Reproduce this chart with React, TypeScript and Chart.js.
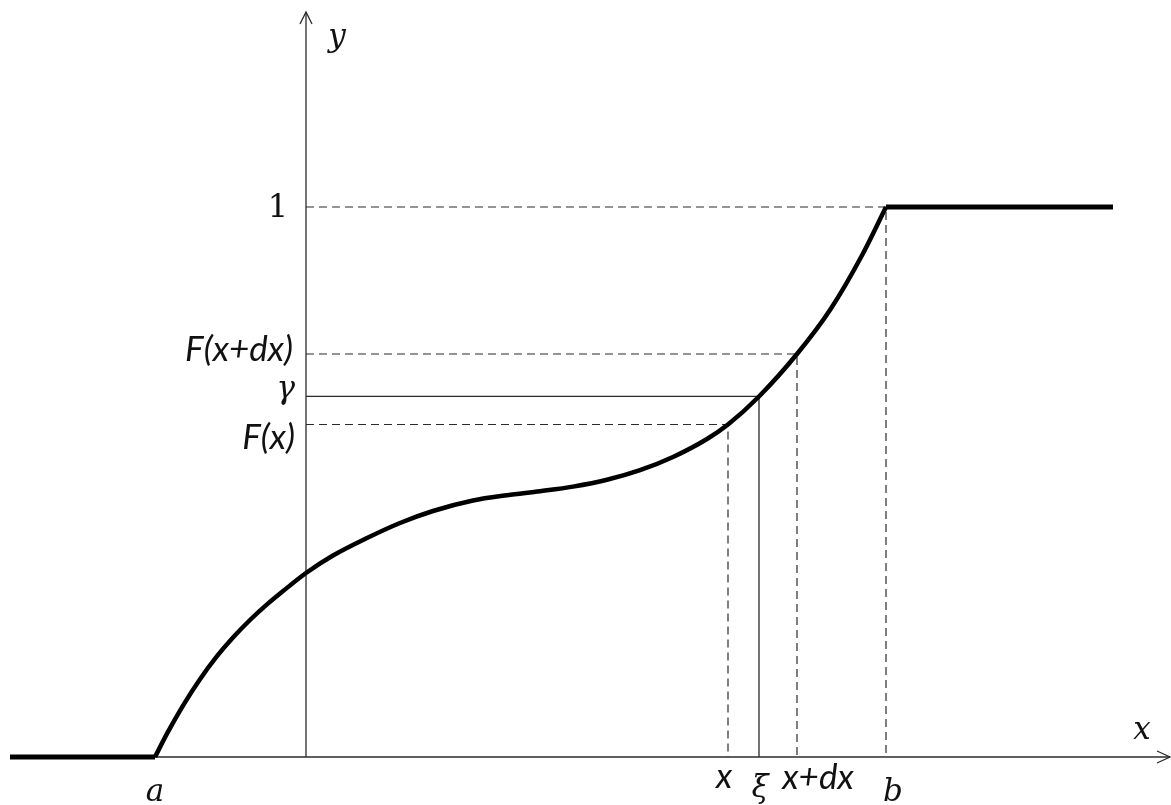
import React, { useEffect, useRef } from "react";
import { Chart, registerables } from "chart.js";

Chart.register(...registerables);

const W = 1171;
const H = 805;

// Distribution function F(x)
// (x: 0 at the y-axis, 1 unit ≈ 100 px; y: 0 .. 1)
const curveX = [-1.51, -1.39, -1.23, -1.06, -0.89, -0.73, -0.56, -0.39, -0.23, 0.0, 0.27, 0.61, 0.94, 1.27, 1.67, 2.01, 2.34, 2.67, 3.01, 3.34, 3.67, 4.01, 4.22, 4.53, 4.91, 5.24, 5.57, 5.8];
const curveY = [0, 0.0425, 0.0935, 0.1415, 0.1833, 0.2173, 0.2491, 0.2775, 0.3016, 0.3345, 0.3664, 0.3982, 0.4255, 0.4473, 0.4664, 0.476, 0.4833, 0.4916, 0.504, 0.5215, 0.5455, 0.5782, 0.6045, 0.6555, 0.7327, 0.8127, 0.9155, 1.0];
const leftFlatX = [-2.96, -1.51];
const leftFlatY = [0, 0];
const rightFlatX = [5.8, 8.07];
const rightFlatY = [1, 1];

// Marked points: x, ξ, x+dx, b
const markX = [4.22, 4.53, 4.91, 5.8];
const markY = [0.6045, 0.6555, 0.7327, 1.0];
const markSolid = [false, true, false, false];

// Axes
const xAxisFrom = -1.51;
const xAxisTo = 8.64;
const yAxisTo = 1.3545;

// Tick labels
const yTickValues = [1, 0.7327, 0.6555, 0.6045];
const yTickLabels = ["1", "F(x+dx)", "γ", "F(x)"];
const xTickValues = [-1.51, 4.22, 4.53, 4.91, 5.8];
const xTickLabels = ["a", "x", "ξ", "x+dx", "b"];
const xAxisTitle = "x";
const yAxisTitle = "y";

// Scale ranges
const xMin = -3.06;
const xMax = 8.65;
const yMin = -0.08727;
const yMax = 1.37636;

// Label styles (font, offsets in px)
const MATH = "italic 31px 'DejaVu Serif'";
const SANS = "italic 35px Lato";
const yTickStyle = [
  { font: "32px 'DejaVu Serif'", dx: -18, dy: 2, base: "middle" },
  { font: SANS, dx: -13, dy: -4, base: "middle" },
  { font: MATH, dx: -11, dy: 2, base: "alphabetic" },
  { font: SANS, dx: -11, dy: 13, base: "middle" },
];
const xTickStyle = [
  { font: MATH, dx: 0, dy: 44, base: "alphabetic" },
  { font: SANS, dx: -4, dy: 31, base: "alphabetic" },
  { font: MATH, dx: 1, dy: 40, base: "alphabetic" },
  { font: SANS, dx: 21, dy: 32, base: "alphabetic" },
  { font: MATH, dx: 7, dy: 44, base: "alphabetic" },
];

const pts = (xs: number[], ys: number[]) => xs.map((x, i) => ({ x, y: ys[i] }));

const LINE = "#2a2a2a";

const overlay = {
  id: "overlay",
  afterDraw(chart: any) {
    const ctx = chart.ctx;
    const xs = chart.scales.x;
    const ys = chart.scales.y;
    ctx.save();
    // arrowheads
    ctx.strokeStyle = LINE;
    ctx.lineWidth = 1.3;
    const xt = xs.getPixelForValue(xAxisTo);
    const x0 = ys.getPixelForValue(0);
    ctx.beginPath();
    ctx.moveTo(xt - 13, x0 - 6);
    ctx.lineTo(xt, x0);
    ctx.lineTo(xt - 13, x0 + 6);
    ctx.stroke();
    const yt = ys.getPixelForValue(yAxisTo);
    const y0 = xs.getPixelForValue(0);
    ctx.beginPath();
    ctx.moveTo(y0 - 6, yt + 12);
    ctx.lineTo(y0, yt);
    ctx.lineTo(y0 + 6, yt + 12);
    ctx.stroke();

    ctx.fillStyle = "#111111";
    // y tick labels
    ctx.textAlign = "right";
    yTickValues.forEach((v, i) => {
      const s = yTickStyle[i];
      ctx.font = s.font;
      ctx.textBaseline = s.base;
      ctx.fillText(yTickLabels[i], y0 + s.dx, ys.getPixelForValue(v) + s.dy);
    });
    // x tick labels
    ctx.textAlign = "center";
    xTickValues.forEach((v, i) => {
      const s = xTickStyle[i];
      ctx.font = s.font;
      ctx.textBaseline = s.base;
      ctx.fillText(xTickLabels[i], xs.getPixelForValue(v) + s.dx, x0 + s.dy);
    });
    // axis titles
    ctx.font = MATH;
    ctx.textBaseline = "alphabetic";
    ctx.textAlign = "center";
    ctx.fillText(xAxisTitle, xt - 28, x0 - 18);
    ctx.fillText(yAxisTitle, y0 + 31, yt + 34);
    ctx.restore();
  },
};

export default function App() {
  const ref = useRef<HTMLCanvasElement | null>(null);
  useEffect(() => {
    if (!ref.current) return;
    const guides = markX.map((mx, i) => ({
      data: [
        { x: 0, y: markY[i] },
        { x: mx, y: markY[i] },
        { x: mx, y: 0 },
      ],
      borderColor: LINE,
      borderWidth: markSolid[i] ? 1.3 : 1.2,
      borderDash: markSolid[i] ? [] : [8, 5],
      pointRadius: 0,
      showLine: true,
      tension: 0,
    }));
    const chart = new Chart(ref.current, {
      type: "scatter",
      data: {
        datasets: [
          {
            data: pts(curveX, curveY),
            borderColor: "#000000",
            borderWidth: 4.5,
            pointRadius: 0,
            showLine: true,
            cubicInterpolationMode: "monotone",
          },
          {
            data: pts(leftFlatX, leftFlatY),
            borderColor: "#000000",
            borderWidth: 5,
            pointRadius: 0,
            showLine: true,
          },
          {
            data: pts(rightFlatX, rightFlatY),
            borderColor: "#000000",
            borderWidth: 5,
            pointRadius: 0,
            showLine: true,
          },
          ...guides,
          {
            data: [
              { x: xAxisFrom, y: 0 },
              { x: xAxisTo, y: 0 },
            ],
            borderColor: LINE,
            borderWidth: 1.3,
            pointRadius: 0,
            showLine: true,
          },
          {
            data: [
              { x: 0, y: 0 },
              { x: 0, y: yAxisTo },
            ],
            borderColor: LINE,
            borderWidth: 1.3,
            pointRadius: 0,
            showLine: true,
          },
        ] as any,
      },
      options: {
        responsive: false,
        animation: false,
        maintainAspectRatio: false,
        layout: { padding: 0 },
        plugins: { legend: { display: false }, tooltip: { enabled: false } },
        events: [],
        scales: {
          x: { type: "linear", min: xMin, max: xMax, display: false },
          y: { type: "linear", min: yMin, max: yMax, display: false },
        },
      },
      plugins: [overlay],
    });
    return () => chart.destroy();
  }, []);
  return (
    <div style={{ position: "fixed", left: 0, top: 0, width: W, height: H, background: "#fff" }}>
      <canvas ref={ref} width={W} height={H} style={{ display: "block", width: W, height: H }} />
    </div>
  );
}
